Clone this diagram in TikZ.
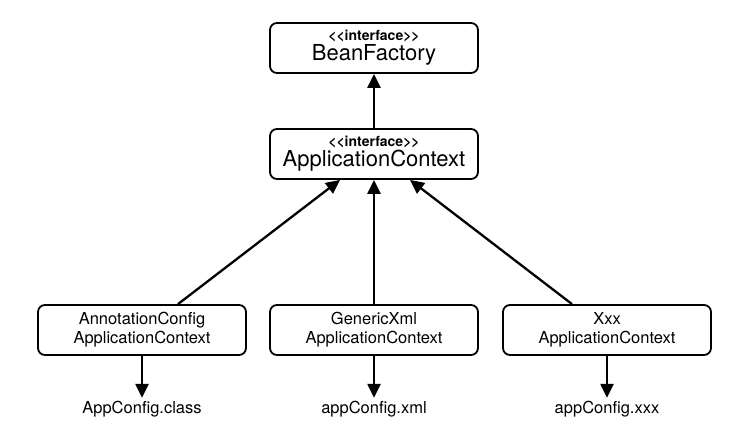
\documentclass[tikz,border=0pt]{standalone}
\usepackage{fontspec}
\setmainfont{TeX Gyre Heros}
\usetikzlibrary{arrows.meta, positioning}

\newcommand{\iface}{{\fontsize{14}{15}\selectfont\bfseries <\kern0pt<interface>\kern0pt>}}

\begin{document}
\begin{tikzpicture}[x=1pt, y=-1pt,
    box/.style={draw, line width=1.8pt, rounded corners=7pt, minimum width=208pt, minimum height=50pt, align=center, inner sep=0pt},
    arr/.style={line width=2.3pt, -{Triangle[width=13pt,length=14pt]}},
    lbl/.style={inner sep=3pt, font=\fontsize{16.5}{20}\selectfont}]
    \useasboundingbox (0,0) rectangle (741,438);

    % Interfaces
    \node[box, font=\fontsize{22}{24}\selectfont] (bf) at (374,48) {\iface\\[-4pt]BeanFactory};
    \node[box, font=\fontsize{22}{24}\selectfont] (ac) at (374,154) {\iface\\[-4pt]ApplicationContext};
    \draw[arr] (ac) -- (bf);

    % Implementations
    \node[box, font=\fontsize{16.5}{19}\selectfont] (b1) at (142,330) {AnnotationConfig\\ApplicationContext};
    \node[box, font=\fontsize{16.5}{19}\selectfont] (b2) at (374,330) {GenericXml\\ApplicationContext};
    \node[box, font=\fontsize{16.5}{19}\selectfont] (b3) at (607,330) {Xxx\\ApplicationContext};
    \draw[arr] ([xshift=36pt]b1.north) -- ([xshift=-34pt]ac.south);
    \draw[arr] (b2) -- (ac);
    \draw[arr] ([xshift=-35pt]b3.north) -- ([xshift=36pt]ac.south);

    % Configuration sources
    \node[lbl] (c1) at (142,409) {AppConfig.class};
    \node[lbl] (c2) at (374,409) {appConfig.xml};
    \node[lbl] (c3) at (607,409) {appConfig.xxx};
    \draw[arr] (b1) -- (c1);
    \draw[arr] (b2) -- (c2);
    \draw[arr] (b3) -- (c3);
\end{tikzpicture}
\end{document}
